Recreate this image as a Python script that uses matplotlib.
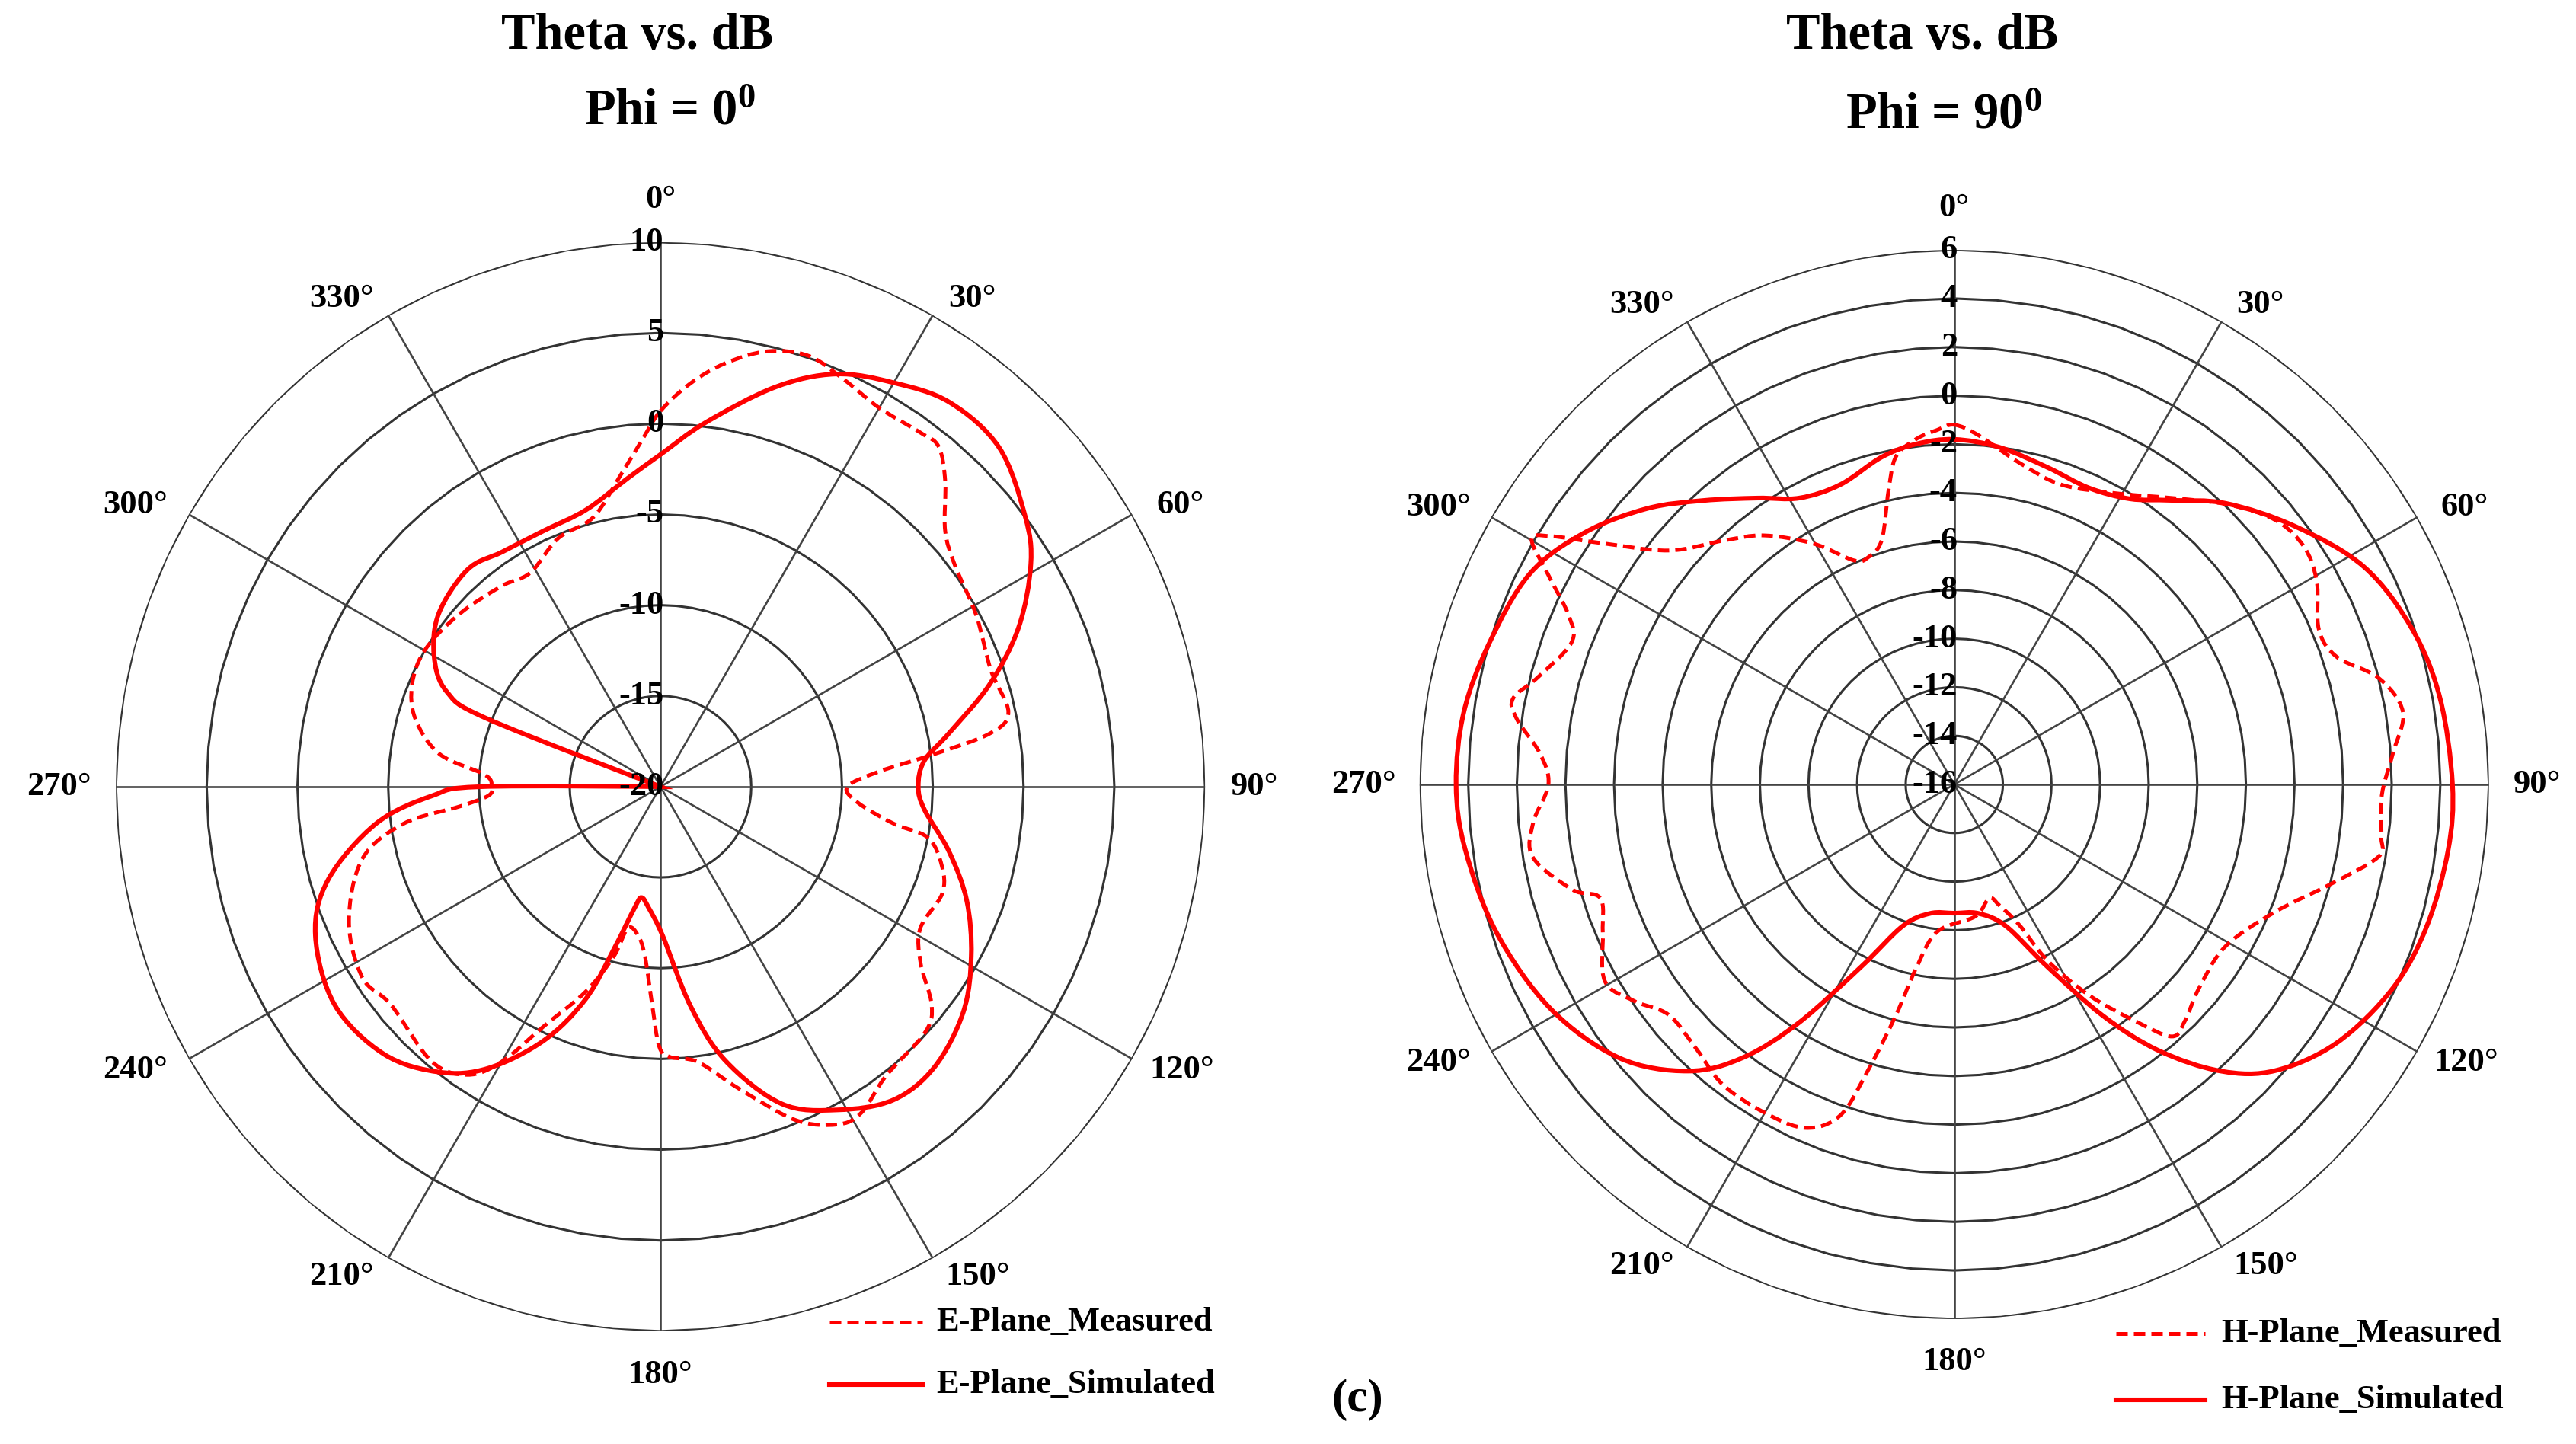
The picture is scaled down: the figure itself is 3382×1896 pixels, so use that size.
import numpy as np
import matplotlib
matplotlib.use("Agg")
import matplotlib.pyplot as plt
from matplotlib.lines import Line2D
from matplotlib.path import Path
from matplotlib.patches import PathPatch

plt.rcParams['font.family'] = ['Liberation Serif', 'DejaVu Serif']
plt.rcParams['font.weight'] = 'bold'
plt.rcParams['mathtext.fontset'] = 'custom'
plt.rcParams['mathtext.rm'] = 'Liberation Serif:bold'
plt.rcParams['mathtext.default'] = 'rm'

# ---- E-plane (Phi = 0) ----
e_sim_ang = [0, 7, 16, 23, 30, 37, 45, 53.5, 59, 66, 72.7, 79.4, 84.4, 90, 95, 102.7,
             110.4, 118.6, 126.7, 135.7, 143.4, 151.3, 159.1, 166.7, 172.2, 179.2, 185.6,
             189.7, 192, 196, 199.4, 204.7, 211.5, 217.8, 226, 236.2, 246.7, 254.4, 262.6,
             267.7, 270, 272, 288, 291.4, 294, 300, 308, 318.4, 326, 335.5, 345, 354]
e_sim_db = [-1.7, 0.2, 2.9, 4.7, 5.7, 6.5, 6.4, 5.0, 3.8, 1.6, -1.0, -3.8, -5.4, -5.8, -5.4, -3.7,
            -2.0, -0.5, 0.8, 1.6, 1.5, 0.3, -1.3, -4.5, -7.8, -11.8, -13.3,
            -13.8, -13.2, -10.7, -7.6, -4.6, -1.8, -0.1, 1.2, 1.6, 0.7, -1.0, -4.2,
            -7.4, -10.1, -25, -25, -9.8, -7.1, -5.6, -4.5, -4.0, -4.4, -4.5, -4.2, -2.9]

e_meas_ang = [0, 4.3, 8.7, 13.8, 19, 24.3, 30, 36.3, 39.3, 43, 48, 53, 61.4, 70.6, 77.9, 80.8,
              83.2, 86, 90, 94.6, 99, 100.8, 105.7, 110.8, 118.6, 124.1, 128.9, 133, 142,
              148.4, 152.4, 158, 165.4, 172.3, 178, 180.3, 182.2, 185.2, 188.5, 193, 195.4,
              200, 206, 210, 213.8, 219.8, 231, 237.4, 246.6, 256.4, 261.8, 264.4, 267, 270,
              273.9, 278.4, 285.4, 292.4, 300.3, 310.7, 321.6, 328.7, 337.6, 346, 352.7, 356.9]
e_meas_db = [0.7, 2.3, 3.6, 4.7, 5.1, 4.6, 4.1, 4.2, 4.2, 3.0, 1.1, 0.3, -0.2, -0.7, -0.4, -1.6,
             -4.8, -7.9, -9.7, -9.1, -7.0, -5.0, -3.9, -3.4, -3.7, -2.7, -0.8, -0.1, 0.2,
             1.1, 1.0, -0.2, -2.8, -4.7, -5.1, -5.7, -8.0, -10.6, -11.7, -12.0, -10.3,
             -8.0, -5.3, -2.5, -0.9, -0.3, -0.9, -0.5, -1.3, -3.1, -5.7, -8.9, -10.5, -10.7,
             -10.3, -7.7, -6.0, -5.2, -5.0, -5.4, -5.9, -6.2, -5.2, -4.7, -2.7, -0.9]

# ---- H-plane (Phi = 90) ----
h_sim_ang = [0, 7.6, 16.4, 24.4, 31.6, 37.3, 44.1, 52.9, 62.1, 71.3, 79.9, 90, 97.6, 106.7,
             114.9, 124, 131.7, 137.1, 142.5, 147.3, 153, 160, 169.4, 180, 190.6, 200, 207,
             213.1, 217.7, 222.9, 230.8, 240.9, 252.1, 262.4, 270, 278.4, 286.9, 296.4,
             304.3, 311.9, 318.5, 325.5, 331.6, 339.2, 347.5, 353.7]
h_sim_db = [-1.8, -2.0, -2.4, -2.6, -2.2, -1.3, 0.1, 1.6, 3.1, 3.9, 4.3, 4.5, 4.5, 4.3,
            3.9, 3.0, 1.7, 0.1, -2.2, -4.7, -7.6, -9.8, -10.6, -10.7, -10.6, -9.8, -7.6,
            -4.3, -1.8, 0.1, 1.8, 3.0, 3.8, 4.3, 4.5, 4.4, 4.0, 3.5,
            2.4, 1.0, -0.4, -1.7, -2.6, -2.8, -2.2, -1.9]

h_meas_ang = [0, 4, 11.5, 19.6, 29, 37.2, 44.3, 50.4, 55.7, 60.7, 67, 71.6, 75.9, 80.8, 85.9,
              91.4, 96.9, 99.7, 104.9, 111.7, 120.8, 129.7, 135.8, 139.2, 142.5, 147.4, 152.1,
              155.1, 159.6, 163, 171, 186.6, 191.7, 194.2, 196.8, 199, 203.4, 210, 217.6,
              224.3, 231.1, 235.9, 240.6, 247.1, 252.2, 254.6, 260.2, 264.8, 270, 274.3,
              278.5, 281, 284.4, 290.3, 293.6, 297.3, 300.1, 301.6, 304.2, 309.3, 316.7,
              322.6, 329.6, 335.9, 339.3, 343.5, 347.4, 349.9, 353.7, 357.2]
h_meas_db = [-1.2, -1.6, -2.5, -2.9, -2.3, -1.2, 0.1, 1.1, 1.4, 1.1, 0.3, 0.6, 2.0, 2.7, 2.1,
             1.6, 1.7, 1.7, 0.0, -1.8, -3.0, -2.9, -2.4, -2.3, -3.7, -5.7, -7.8,
             -9.6, -10.7, -11.1, -10.5, -9.9, -8.3, -6.2, -3.7, -1.6, -0.6, -0.4, -0.4,
             -0.8, -0.9, -0.1, 0.5, -0.3, -0.7, 0.3, 1.6, 1.4, 0.7, 1.1,
             2.2, 2.5, 1.7, 0.8, 1.3, 2.8, 4.1, 3.5, 1.7, -0.8, -2.2,
             -3.1, -4.5, -5.9, -6.0, -5.5, -3.6, -2.3, -1.7, -1.4]

theta_ticks = list(range(0, 360, 30))
# where the angle labels sit, as (x, y) offsets from the centre in units of the radius
theta_label_pos = [(0, 1.078), (0.572, 0.897), (0.955, 0.518), (1.09, 0), (0.957, -0.52),
                   (0.582, -0.9), (0, -1.08), (-0.585, -0.9), (-0.965, -0.52), (-1.105, 0),
                   (-0.965, 0.518), (-0.585, 0.897)]

RED = '#ff0000'
GRID = '#333333'
DASH = (0, (3.0, 1.6))


def smooth_patch(ax, ang, db, rmin, rmax, **kw):
    # closed smooth (Catmull-Rom -> cubic Bezier) outline, built in the plane
    # and handed back to the polar axes as (theta, r) control points
    t = np.deg2rad(np.asarray(ang, float))
    d = np.clip(np.asarray(db, float), rmin, rmax) - rmin
    P = np.column_stack([d * np.sin(t), d * np.cos(t)])
    n = len(P)
    tang = (np.roll(P, -1, axis=0) - np.roll(P, 1, axis=0)) / 6.0
    tang[d == 0] = 0.0
    verts = [P[0]]
    codes = [Path.MOVETO]
    for i in range(n):
        j = (i + 1) % n
        verts += [P[i] + tang[i], P[j] - tang[j], P[j]]
        codes += [Path.CURVE4] * 3
    V = np.array(verts)
    th = np.arctan2(V[:, 0], V[:, 1])
    rr = np.hypot(V[:, 0], V[:, 1]) + rmin
    patch = PathPatch(Path(np.column_stack([th, rr]), codes), fill=False,
                      transform=ax.transData, **kw)
    ax.add_patch(patch)


def polar_panel(rect, rmin, rmax, step, meas_ang, meas_db, sim_ang, sim_db):
    ax = fig.add_axes(rect, projection='polar')
    ax.set_theta_zero_location('N')
    ax.set_theta_direction(-1)
    ax.set_ylim(rmin, rmax)
    ax.set_yticks([])
    ax.set_xticks([])
    ax.grid(False)
    ax.spines['polar'].set_visible(False)

    # polygonal rings (Excel radar style) and spokes
    poly_t = np.deg2rad(np.arange(0, 361, 5))
    for v in np.arange(rmin + step, rmax + 0.01, step):
        ax.plot(poly_t, np.full(poly_t.shape, v), color=GRID, linewidth=1.1, zorder=1)
    for tk in theta_ticks:
        ax.plot([np.deg2rad(tk)] * 2, [rmin, rmax], color='#444444', linewidth=0.95, zorder=1)

    smooth_patch(ax, meas_ang, meas_db, rmin, rmax, edgecolor=RED, linestyle=DASH,
                 linewidth=1.8, zorder=3)
    smooth_patch(ax, sim_ang, sim_db, rmin, rmax, edgecolor=RED, linestyle='-',
                 linewidth=2.2, zorder=3)

    # radial labels along the 0 deg spoke
    for v in np.arange(rmin, rmax + 0.01, step):
        ax.annotate('%d' % v, xy=(0, v), xytext=(1.5, 0), textcoords='offset points',
                    ha='right', va='center', fontsize=16, fontweight='bold', zorder=4)
    # angle labels
    for tk, (px, py) in zip(theta_ticks, theta_label_pos):
        ax.text(0.5 + px / 2, 0.5 + py / 2, '%d\u00b0' % tk, transform=ax.transAxes,
                ha='center', va='center', fontsize=16, fontweight='bold', clip_on=False)
    return ax


fig = plt.figure(figsize=(16.91, 9.48), dpi=200)

polar_panel([0.0450, 0.0781, 0.4228, 0.7542], -20, 10, 5,
            e_meas_ang, e_meas_db, e_sim_ang, e_sim_db)
polar_panel([0.5511, 0.0865, 0.4151, 0.7405], -16, 6, 2,
            h_meas_ang, h_meas_db, h_sim_ang, h_sim_db)

# titles
fig.text(0.2475, 0.975, 'Theta vs. dB', ha='center', va='center', fontsize=24, fontweight='bold')
fig.text(0.2600, 0.9225, 'Phi = 0$^0$', ha='center', va='center', fontsize=24, fontweight='bold')
fig.text(0.7463, 0.975, 'Theta vs. dB', ha='center', va='center', fontsize=24, fontweight='bold')
fig.text(0.7546, 0.920, 'Phi = 90$^0$', ha='center', va='center', fontsize=24, fontweight='bold')

# legends
legends = [
    (0.322, 0.358, 0.0844, 0.0411, 0.3634, 'E-Plane'),
    (0.8214, 0.8560, 0.0765, 0.0306, 0.8622, 'H-Plane'),
]
for x0, x1, y_m, y_s, xt, name in legends:
    fig.add_artist(Line2D([x0, x1], [y_m, y_m], transform=fig.transFigure, color=RED,
                          linewidth=1.8, linestyle=DASH))
    fig.add_artist(Line2D([x0, x1], [y_s, y_s], transform=fig.transFigure, color=RED,
                          linewidth=2.2))
    fig.text(xt, y_m, name + '_Measured', ha='left', va='center', fontsize=16, fontweight='bold')
    fig.text(xt, y_s, name + '_Simulated', ha='left', va='center', fontsize=16, fontweight='bold')

fig.text(0.527, 0.0306, '(c)', ha='center', va='center', fontsize=22, fontweight='bold')

fig.savefig('out.png', dpi=200, facecolor='white')
